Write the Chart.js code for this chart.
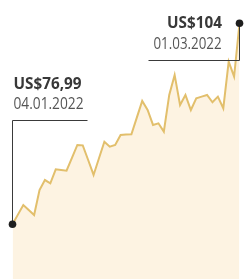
<!DOCTYPE html>
<html>
<head>
<meta charset="utf-8">
<script src="https://cdn.jsdelivr.net/npm/chart.js@4/dist/chart.umd.min.js"></script>
<style>
  html, body { margin: 0; padding: 0; background: #fff; }
</style>
</head>
<body>
<canvas id="oilChart" width="250" height="279"></canvas>
<script>
// Prices, one per step along the line (US$)
const prices = [
    76.99, 78.29, 79.58, 78.91, 78.24, 81.60, 82.94, 82.50, 84.38, 84.29,
    84.19, 85.91, 87.65, 87.60, 85.63, 83.62, 85.86, 88.09, 87.42, 87.65,
    88.99, 89.05, 89.09, 91.32, 93.56, 92.35, 90.34, 90.56, 89.44, 94.37,
    97.06, 93.02, 94.37, 92.35, 93.92, 94.15, 94.37, 93.39, 94.14, 92.58,
    98.84, 96.83, 104.00
];
const steps = prices.map((p, i) => i);
const startLabel = ['US$76,99', '04.01.2022'];
const endLabel = ['US$104', '01.03.2022'];

const lineColor = '#e2bf6c';
const fillColor = '#fdf3e2';
const inkColor = '#2f2f2f';

// callout lines, dots and texts for first and last value
const callouts = {
    id: 'callouts',
    afterDatasetsDraw(chart) {
        const { ctx } = chart;
        const pts = chart.getDatasetMeta(0).data;
        const first = pts[0];
        const last = pts[pts.length - 1];
        const fx = Math.round(first.x - 0.5) + 0.5;
        const lx = Math.round(last.x - 0.5) + 0.5;

        ctx.save();
        ctx.strokeStyle = '#3a3a3a';
        ctx.lineWidth = 1;
        ctx.beginPath();
        ctx.moveTo(fx, first.y);
        ctx.lineTo(fx, 120.5);
        ctx.lineTo(fx + 75, 120.5);
        ctx.moveTo(lx - 91, 60.5);
        ctx.lineTo(lx, 60.5);
        ctx.lineTo(lx, last.y);
        ctx.stroke();

        ctx.fillStyle = '#1e1e1e';
        [first, last].forEach(p => {
            ctx.beginPath();
            ctx.arc(p.x, p.y, 3.8, 0, Math.PI * 2);
            ctx.fill();
        });

        ctx.textBaseline = 'alphabetic';
        ctx.textAlign = 'left';
        ctx.fillStyle = '#383838';
        ctx.font = 'bold 16px "Open Sans"';
        ctx.fillText(startLabel[0], fx + 1, 89, 68);
        ctx.fillStyle = '#555';
        ctx.font = '16px "Open Sans"';
        ctx.fillText(startLabel[1], fx + 1, 109, 70);

        ctx.textAlign = 'right';
        ctx.fillStyle = '#383838';
        ctx.font = 'bold 16px "Open Sans"';
        ctx.fillText(endLabel[0], lx - 17.5, 28, 55);
        ctx.fillStyle = '#555';
        ctx.font = '16px "Open Sans"';
        ctx.fillText(endLabel[1], lx - 18, 49, 68);
        ctx.restore();
    }
};

new Chart(document.getElementById('oilChart').getContext('2d'), {
    type: 'line',
    data: {
        labels: steps,
        datasets: [{
            data: prices,
            borderColor: lineColor,
            backgroundColor: fillColor,
            borderWidth: 2,
            fill: 'start',
            tension: 0,
            pointRadius: 0
        }]
    },
    options: {
        responsive: false,
        animation: false,
        layout: { padding: { left: 12.5, right: 10.5, top: 0, bottom: 0 } },
        plugins: { legend: { display: false }, tooltip: { enabled: false } },
        scales: {
            x: { display: false, offset: false },
            y: { display: false, min: 69.64, max: 107.13 }
        }
    },
    plugins: [callouts]
});
</script>
</body>
</html>
